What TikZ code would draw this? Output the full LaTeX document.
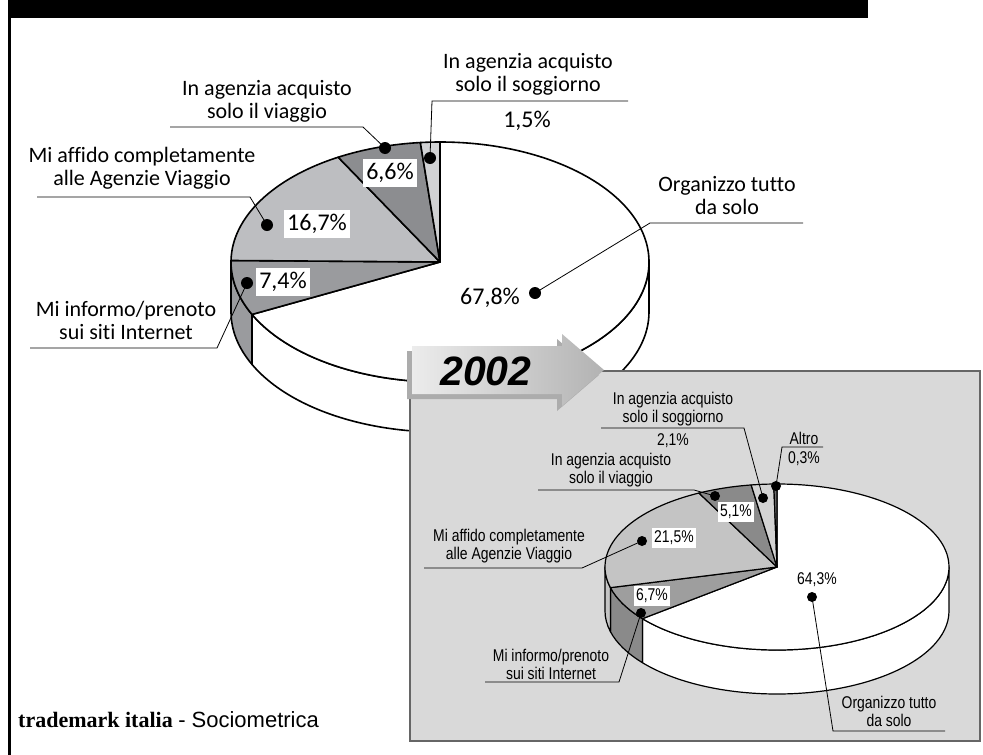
\documentclass[tikz,border=0pt]{standalone}
\usepackage{fontspec}
\newfontfamily\lblfont[Ligatures=NoCommon]{Carlito}
\newfontfamily\cndfont[FakeStretch=0.82,Ligatures=NoCommon]{Liberation Sans}
\newfontfamily\sansfnt{Liberation Sans}
\newfontfamily\serifnt{Liberation Serif}
\definecolor{pmid}{HTML}{9A9B9E}
\definecolor{plight}{HTML}{BDBEC1}
\definecolor{pdark}{HTML}{8C8D90}
\definecolor{ppale}{HTML}{D1D2D4}
\definecolor{qmid}{HTML}{9E9E9E}
\definecolor{qlight}{HTML}{C4C4C4}
\definecolor{qdark}{HTML}{8A8A8A}
\definecolor{qpale}{HTML}{D3D3D3}
\definecolor{qdeep}{HTML}{6E6E6E}
\definecolor{boxgray}{HTML}{D9D9D9}
\definecolor{boxedge}{HTML}{666666}
\tikzset{
  pieline/.style={draw=black, line width=1.6pt, line join=round},
  pieline2/.style={draw=black, line width=1.2pt, line join=round},
  biglbl/.style={font=\lblfont\fontsize{22}{23}\selectfont, align=center, inner sep=0pt},
  bigpct/.style={font=\lblfont\fontsize{24}{26}\selectfont, inner sep=0pt},
  bigbox/.style={bigpct, fill=white, inner xsep=3pt, inner ysep=4pt},
  smllbl/.style={font=\cndfont\fontsize{17}{18}\selectfont, align=center, inner sep=0pt},
  smlpct/.style={font=\cndfont\fontsize{17}{18}\selectfont, inner sep=0pt},
  smlbox/.style={smlpct, fill=white, inner xsep=2pt, inner ysep=3pt},
  blob/.style={circle, fill=black, inner sep=0pt, minimum size=12pt},
  smlblob/.style={blob, minimum size=10pt},
  leader/.style={line width=0.8pt},
}
\begin{document}
\begin{tikzpicture}[x=1pt,y=1pt]
\useasboundingbox (0,0) rectangle (983,-755);
% frame
\fill (8,0) rectangle (868,-18);
\draw[line width=3pt] (9.5,-18) -- (9.5,-755);

% ---- first pie
\coordinate (pieA) at (440,-262);
\foreach \a/\b/\c in {0/-154.08/white,-154.08/-180/pmid}{
  \filldraw[fill=\c, pieline] (pieA) ++(\a:209pt and 120pt)
    arc[start angle=\a, end angle=\b, x radius=209pt, y radius=120pt]
    -- ++(0,-50) arc[start angle=\b, end angle=\a, x radius=209pt, y radius=120pt] -- cycle;
}
\foreach \s/\e/\c in {0/67.8/white,67.8/75.2/pmid,75.2/91.9/plight,91.9/98.5/pdark,98.5/100/ppale}{
  \pgfmathsetmacro\a{90-3.6*\s}
  \pgfmathsetmacro\b{90-3.6*\e}
  \filldraw[fill=\c, pieline] (pieA) -- ++(\a:209pt and 120pt)
    arc[start angle=\a, end angle=\b, x radius=209pt, y radius=120pt] -- cycle;
}

\node[biglbl] (viaggio) at (267,-101) {In agenzia acquisto\\solo il viaggio};
\node[biglbl] (soggiorno) at (528,-74) {In agenzia acquisto\\solo il soggiorno};
\node[bigpct] (soggiorno-pct) at (527,-121) {1,5\%};
\node[biglbl] (affido) at (142,-168) {Mi affido completamente\\alle Agenzie Viaggio};
\node[biglbl] (informo) at (126,-320) {Mi informo/prenoto\\sui siti Internet};
\node[biglbl] (organizzo) at (727,-196) {Organizzo tutto\\da solo};

\node[blob] (viaggio-dot) at (385,-148) {};
\node[blob] (soggiorno-dot) at (430,-158) {};
\node[blob] (affido-dot) at (267,-225) {};
\node[blob] (informo-dot) at (247,-283) {};
\node[blob] (organizzo-dot) at (535,-293) {};

\coordinate (viaggio-l) at (170,-127);
\coordinate (viaggio-r) at (363,-127);
\coordinate (soggiorno-l) at (432,-101);
\coordinate (soggiorno-r) at (628,-101);
\coordinate (affido-l) at (37,-197);
\coordinate (affido-r) at (250,-197);
\coordinate (informo-l) at (30,-348);
\coordinate (informo-r) at (217,-348);
\coordinate (organizzo-l) at (650,-223);
\coordinate (organizzo-r) at (803,-223);

\draw[leader] (viaggio-l) -- (viaggio-r) -- (viaggio-dot.center);
\draw[leader] (soggiorno-r) -- (soggiorno-l) -- (soggiorno-dot.center);
\draw[leader] (affido-l) -- (affido-r) -- (affido-dot.center);
\draw[leader] (informo-l) -- (informo-r) -- (informo-dot.center);
\draw[leader] (organizzo-r) -- (organizzo-l) -- (organizzo-dot.center);

\node[bigbox] (viaggio-pct) at (390,-173) {6,6\%};
\node[bigbox] (affido-pct) at (317,-224) {16,7\%};
\node[bigbox] (informo-pct) at (283,-282) {7,4\%};
\node[bigpct] (organizzo-pct) at (490,-298) {67,8\%};

% ---- 2002 panel
\draw[fill=boxgray, draw=boxedge, line width=2.5pt] (410,-371) rectangle (980,-741);
\fill[gray!65, shift={(-5,-5)}] (412,-346) -- (562,-346) -- (562,-334) -- (604,-370)
  -- (562,-406) -- (562,-394) -- (412,-394) -- cycle;
\shade[left color=gray!15, right color=gray!60] (412,-346) -- (562,-346) -- (562,-334) -- (604,-370)
  -- (562,-406) -- (562,-394) -- (412,-394) -- cycle;
\node[font=\sansfnt\bfseries\itshape\fontsize{41}{43}\selectfont] (year) at (486,-371) {2002};

% ---- second pie
\begin{scope}[yshift=-8pt]
\coordinate (pieB) at (777,-559);
\foreach \a/\b/\c in {0/-141.48/white,-141.48/-165.6/qdark,-165.6/-180/qlight}{
  \filldraw[fill=\c, pieline2] (pieB) ++(\a:172pt and 83pt)
    arc[start angle=\a, end angle=\b, x radius=172pt, y radius=83pt]
    -- ++(0,-44) arc[start angle=\b, end angle=\a, x radius=172pt, y radius=83pt] -- cycle;
}
\foreach \s/\e/\c in {0/64.3/white,64.3/71/qmid,71/92.5/qlight,92.5/97.6/qdark,97.6/99.7/qpale,99.7/100/qdeep}{
  \pgfmathsetmacro\a{90-3.6*\s}
  \pgfmathsetmacro\b{90-3.6*\e}
  \filldraw[fill=\c, pieline2] (pieB) -- ++(\a:172pt and 83pt)
    arc[start angle=\a, end angle=\b, x radius=172pt, y radius=83pt] -- cycle;
}

\node[smllbl] (soggiorno2) at (673,-401) {In agenzia acquisto\\solo il soggiorno};
\node[smlpct] (soggiorno2-pct) at (673,-433) {2,1\%};
\node[smllbl] (altro2) at (804,-430) {Altro};
\node[smlpct] (altro2-pct) at (804,-451) {0,3\%};
\node[smllbl] (viaggio2) at (611,-462) {In agenzia acquisto\\solo il viaggio};
\node[smllbl] (affido2) at (509,-538) {Mi affido completamente\\alle Agenzie Viaggio};
\node[smllbl] (informo2) at (551,-656) {Mi informo/prenoto\\sui siti Internet};
\node[smllbl] (organizzo2) at (889,-703) {Organizzo tutto\\da solo};

\node[smlblob] (soggiorno2-dot) at (763,-490) {};
\node[smlblob] (altro2-dot) at (776,-478) {};
\node[smlblob] (viaggio2-dot) at (715,-488) {};
\node[smlblob] (affido2-dot) at (642,-533) {};
\node[smlblob] (informo2-dot) at (641,-605) {};
\node[smlblob] (organizzo2-dot) at (812,-589) {};

\coordinate (soggiorno2-l) at (601,-420);
\coordinate (soggiorno2-r) at (744,-420);
\coordinate (altro2-l) at (782,-439);
\coordinate (altro2-r) at (823,-439);
\coordinate (viaggio2-l) at (538,-482);
\coordinate (viaggio2-r) at (694,-482);
\coordinate (affido2-l) at (424,-560);
\coordinate (affido2-r) at (582,-560);
\coordinate (informo2-l) at (485,-674);
\coordinate (informo2-r) at (619,-674);
\coordinate (organizzo2-l) at (833,-723);
\coordinate (organizzo2-r) at (945,-723);

\draw[leader] (soggiorno2-l) -- (soggiorno2-r) -- (soggiorno2-dot.center);
\draw[leader] (altro2-r) -- (altro2-l) -- (altro2-dot.center);
\draw[leader] (viaggio2-l) -- (viaggio2-r) -- (viaggio2-dot.center);
\draw[leader] (affido2-l) -- (affido2-r) -- (affido2-dot.center);
\draw[leader] (informo2-l) -- (informo2-r) -- (informo2-dot.center);
\draw[leader] (organizzo2-r) -- (organizzo2-l) -- (organizzo2-dot.center);

\node[smlbox] (viaggio2-pct) at (736,-504) {5,1\%};
\node[smlbox] (affido2-pct) at (674,-530) {21,5\%};
\node[smlbox] (informo2-pct) at (652,-588) {6,7\%};
\node[smlpct] (organizzo2-pct) at (817,-572) {64,3\%};
\end{scope}

% ---- source
\node[anchor=base west, inner sep=0pt, font=\fontsize{22}{24}\selectfont] (credit) at (18,-727)
  {\serifnt\bfseries trademark italia \sansfnt\mdseries- Sociometrica};
\end{tikzpicture}
\end{document}
